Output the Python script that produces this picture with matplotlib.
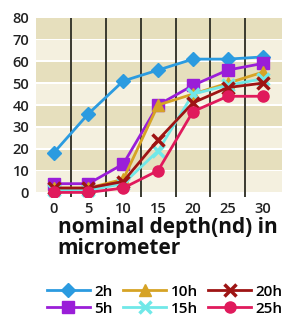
import matplotlib.pyplot as plt
import numpy as np

depths = ['0', '5', '10', '15', '20', '25', '30']
labels = ['2h', '5h', '10h', '15h', '20h', '25h']
h2 = [18, 36, 51, 56, 61, 61, 62]
h5 = [4, 4, 13, 40, 49, 56, 59]
h10 = [2, 2, 6, 40, 45, 50, 55]
h15 = [1, 1, 4, 19, 45, 49, 52]
h20 = [2, 2, 5, 24, 41, 48, 50]
h25 = [0, 0, 2, 10, 37, 44, 44]
yticks = [0, 10, 20, 30, 40, 50, 60, 70, 80]

series = [h2, h5, h10, h15, h20, h25]
colors = ['#2b9be0', '#9a1ed8', '#d6a325', '#70e8e8', '#9e1414', '#e01a5c']
markers = ['D', 's', '^', 'x', 'x', 'o']
sizes = [7, 8, 8, 9, 8, 8]

plt.rcParams['font.family'] = ['Open Sans', 'DejaVu Sans']

fig = plt.figure(figsize=(2.89, 3.2), dpi=100)
ax = fig.add_axes([0.125, 0.385, 0.85, 0.56])

# striped background
for i, lo in enumerate(range(0, 80, 10)):
    col = '#f4f0df' if i % 2 == 0 else '#e6dfbd'
    ax.axhspan(lo + 0.4, lo + 9.6, color=col, lw=0, zorder=0)

x = np.arange(len(depths))
for b in x[:-1] + 0.5:
    ax.axvline(b, color='#3a3a30', lw=1.4, zorder=1)

for s, lab, c, m, ms in zip(series, labels, colors, markers, sizes):
    ax.plot(x, s, color=c, marker=m, ms=ms, lw=2, mew=2.5 if m == 'x' else 1,
            label=lab, zorder=3)

ax.set_xlim(-0.5, 6.55)
ax.set_ylim(-2, 80)
ax.set_xticks(x)
ax.set_xticklabels(depths)
ax.set_yticks(yticks)
for sp in ax.spines.values():
    sp.set_visible(False)
ax.tick_params(length=0, labelsize=10.5, colors='#222222')
ax.tick_params(axis='x', pad=4)
ax.tick_params(axis='y', pad=5)
for t in ax.get_xticklabels() + ax.get_yticklabels():
    t.set_fontweight('semibold')

fig.text(0.2, 0.322, 'nominal depth(nd) in\nmicrometer', fontsize=15,
         fontweight='bold', ha='left', va='top', linespacing=1.0,
         color='#111111')

fig.legend(loc='lower center', bbox_to_anchor=(0.57, -0.015), ncol=3,
           frameon=False, fontsize=11, handlelength=2.8, columnspacing=0.7,
           handletextpad=0.3, labelspacing=0.2, borderaxespad=0.2,
           prop={'weight': 'semibold', 'size': 11})

fig.savefig('out.png', dpi=100)
